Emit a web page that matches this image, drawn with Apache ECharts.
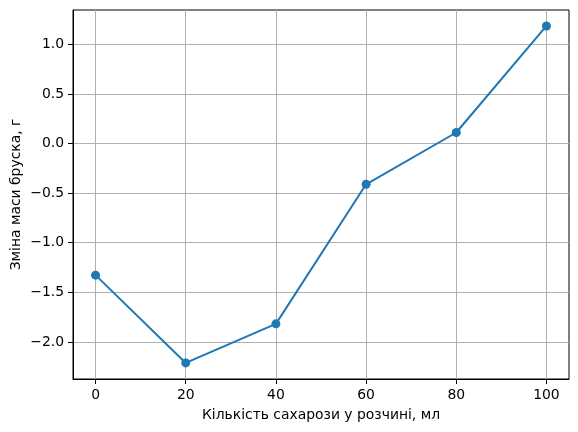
<!DOCTYPE html>
<html>
<head>
<meta charset="utf-8">
<script src="https://cdn.jsdelivr.net/npm/echarts@6/dist/echarts.min.js"></script>
<style>html,body{margin:0;padding:0;background:#fff}#c{width:578px;height:432px}</style>
</head>
<body>
<div id="c"></div>
<script>
const sucroseMl = [0, 20, 40, 60, 80, 100];
const massChange = [-1.327, -2.212, -1.818, -0.411, 0.111, 1.185];
const xTicks = [0, 20, 40, 60, 80, 100];
const yTicks = [-2.0, -1.5, -1.0, -0.5, 0.0, 0.5, 1.0];
const xTitle = 'Кількість сахарози у розчині, мл';
const yTitle = 'Зміна маси бруска, г';

const font = 'DejaVu Sans';
const fmt = v => (Math.round(v * 10) / 10).toFixed(1).replace('-', '\u2212');

const chart = echarts.init(document.getElementById('c'));
chart.setOption({
  animation: false,
  grid: { left: 73, right: 9, top: 10, bottom: 53, containLabel: false, outerBoundsMode: 'none', show: true, borderColor: '#000', borderWidth: 1, backgroundColor: 'transparent' },
  xAxis: {
    type: 'value', min: -5, max: 105,
    name: xTitle, nameLocation: 'middle', nameGap: 29, nameMoveOverlap: false,
    nameTextStyle: { fontFamily: font, fontSize: 13.9, color: '#000' },
    axisLine: { show: true, onZero: false, lineStyle: { color: '#000', width: 1 } },
    axisTick: { show: true, length: 5, customValues: xTicks, lineStyle: { color: '#000' } },
    axisLabel: { customValues: xTicks, margin: 9, fontFamily: font, fontSize: 13.9, color: '#000' },
    splitLine: { show: true, lineStyle: { color: '#b0b0b0', width: 1 } }
  },
  yAxis: {
    type: 'value', min: -2.374, max: 1.346,
    name: yTitle, nameLocation: 'middle', nameGap: 50, nameMoveOverlap: false,
    nameTextStyle: { fontFamily: font, fontSize: 13.9, color: '#000' },
    axisLine: { show: true, onZero: false, lineStyle: { color: '#000', width: 1 } },
    axisTick: { show: true, length: 5, customValues: yTicks, lineStyle: { color: '#000' } },
    axisLabel: { customValues: yTicks, margin: 9, fontFamily: font, fontSize: 13.9, color: '#000', formatter: fmt },
    splitLine: { show: true, lineStyle: { color: '#b0b0b0', width: 1 } }
  },
  series: [{
    type: 'line',
    data: sucroseMl.map((x, i) => [x, massChange[i]]),
    symbol: 'circle', symbolSize: 9,
    lineStyle: { color: '#1f77b4', width: 2 },
    itemStyle: { color: '#1f77b4' }
  }]
});
</script>
</body>
</html>
